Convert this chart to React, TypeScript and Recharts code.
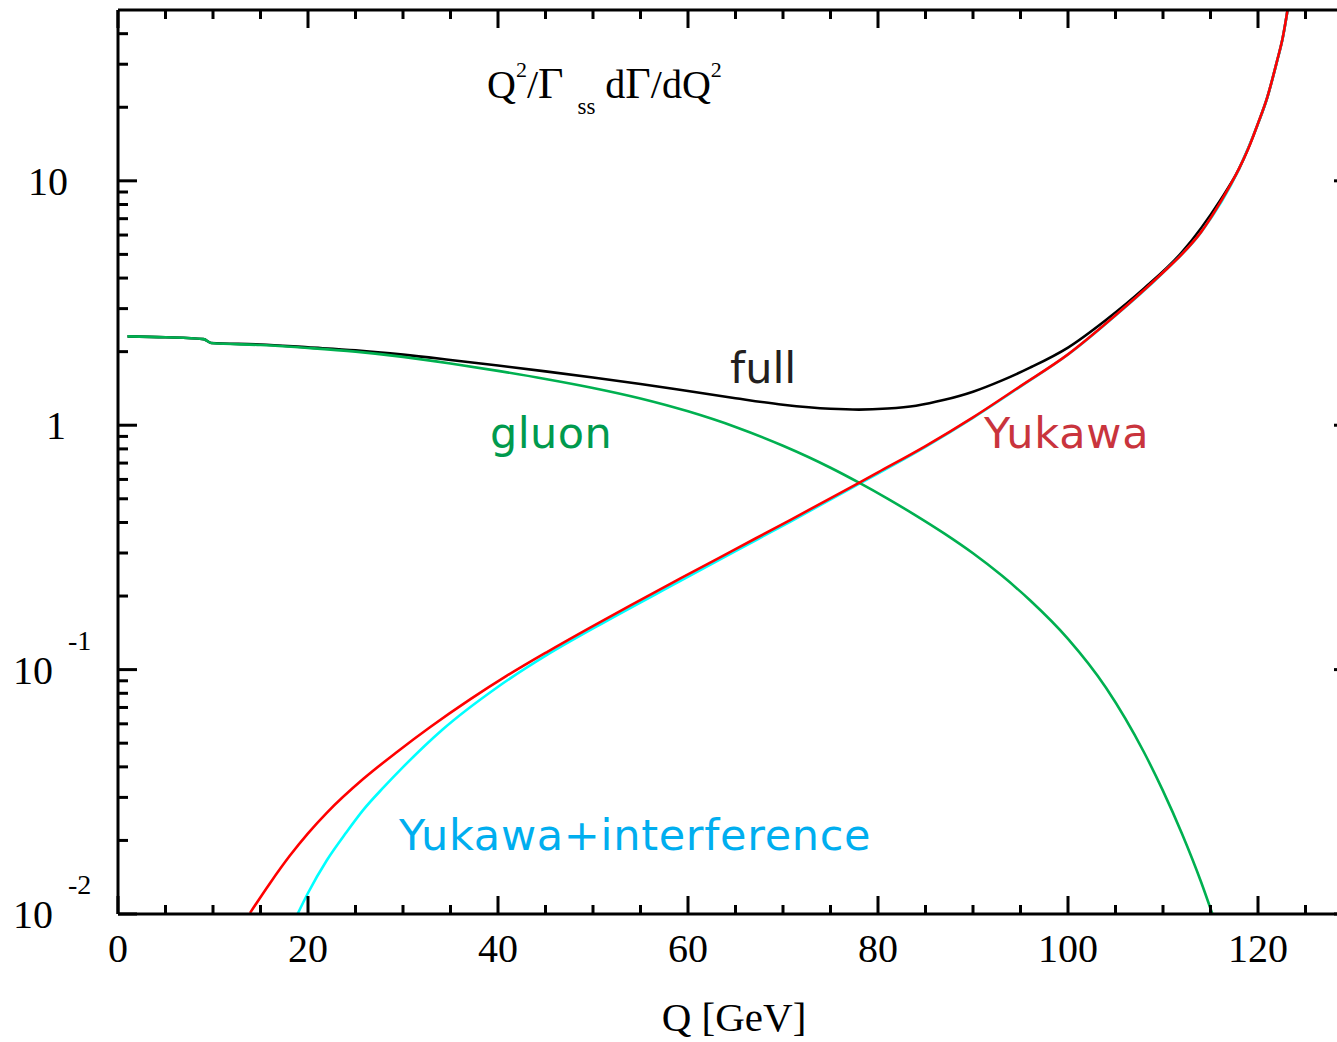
import React from "react";
import { LineChart, Line, XAxis, YAxis, Customized } from "recharts";

// Q [GeV] / value pairs
const fullQ = [1, 5, 9, 9.8, 15, 20, 25, 30, 35, 40, 45, 50, 55, 60, 65, 70, 75, 78, 81, 84, 87, 90, 93, 96, 100, 104, 108, 112, 116, 118, 120, 121, 122, 122.6, 123.1];
const fullV = [2.31, 2.29, 2.25, 2.17, 2.14, 2.082, 2.024, 1.944, 1.849, 1.754, 1.661, 1.568, 1.475, 1.38, 1.29, 1.213, 1.167, 1.158, 1.17, 1.202, 1.27, 1.371, 1.522, 1.72, 2.079, 2.696, 3.627, 5.108, 8.3, 11.19, 17.14, 22.08, 30.83, 38.37, 49.66];

const gluonQ = [1, 5, 9, 9.8, 15, 20, 25, 30, 35, 40, 45, 50, 55, 60, 65, 70, 75, 78, 81, 84, 87, 90, 93, 96, 100, 104, 108, 110, 112, 114, 115.2];
const gluonV = [2.31, 2.29, 2.25, 2.17, 2.128, 2.07, 2.0, 1.904, 1.789, 1.669, 1.547, 1.421, 1.287, 1.14, 0.984, 0.824, 0.67, 0.582, 0.5008, 0.4267, 0.3599, 0.2991, 0.243, 0.1922, 0.1336, 0.0843, 0.0459, 0.0319, 0.0213, 0.01355, 0.01];

const yukawaQ = [13.9, 16, 18.1, 20, 22, 25.8, 29.4, 32.8, 37.1, 40.9, 45.2, 49.7, 53.9, 59.2, 65, 70.7, 77.9, 80, 85, 90, 95, 100, 105, 110, 112, 114, 116, 118, 119.2, 120, 121, 122, 122.6, 123.1];
const yukawaV = [0.0101, 0.01337, 0.01734, 0.02138, 0.026, 0.03565, 0.04613, 0.05794, 0.07568, 0.09419, 0.1183, 0.1486, 0.1828, 0.236, 0.3112, 0.4083, 0.5781, 0.6412, 0.8213, 1.0765, 1.4454, 1.95, 2.818, 4.217, 5.012, 6.166, 8.128, 11.22, 14.22, 17.18, 22.13, 30.9, 38.46, 49.77];

const interfQ = [18.9, 20, 22, 24, 25.8, 28, 30, 34.2, 39.9, 45.2, 50.4, 59.2, 65, 70.7, 77.9, 85, 90, 95, 100, 105, 110, 114, 118, 120, 121, 122, 122.6, 123.1];
const interfV = [0.01, 0.01219, 0.01663, 0.02148, 0.02661, 0.03311, 0.0399, 0.05702, 0.08453, 0.1151, 0.1503, 0.2307, 0.3055, 0.4018, 0.5728, 0.8155, 1.0715, 1.4388, 1.9454, 2.8119, 4.2073, 6.1518, 11.194, 17.14, 22.08, 30.83, 38.37, 49.66];

const xTicks = [0, 5, 10, 15, 20, 25, 30, 35, 40, 45, 50, 55, 60, 65, 70, 75, 80, 85, 90, 95, 100, 105, 110, 115, 120, 125, 130];
const xLabels = [0, 20, 40, 60, 80, 100, 120];
const yTicks = [
  0.01, 0.02, 0.03, 0.04, 0.05, 0.06, 0.07, 0.08, 0.09,
  0.1, 0.2, 0.3, 0.4, 0.5, 0.6, 0.7, 0.8, 0.9,
  1, 2, 3, 4, 5, 6, 7, 8, 9,
  10, 20, 30, 40,
];
const yMajor = [0.01, 0.1, 1, 10];

const zip = (q: number[], v: number[]) => q.map((x, i) => ({ q: x, v: v[i] }));
const fullData = zip(fullQ, fullV);
const gluonData = zip(gluonQ, gluonV);
const yukawaData = zip(yukawaQ, yukawaV);
const interfData = zip(interfQ, interfV);

const SERIF = "'Liberation Serif', 'Times New Roman', serif";
const SANS = "'DejaVu Sans', sans-serif";

const BottomTick = ({ x, y, payload }: any) => {
  const v = payload.value;
  const major = v % 20 === 0;
  return (
    <g>
      <line x1={x} y1={y} x2={x} y2={y - (major ? 18 : 9)} stroke="#000" strokeWidth={3} />
      {xLabels.includes(v) && (
        <text x={x} y={y + 48} textAnchor="middle" fontFamily={SERIF} fontSize={40} fill="#000">
          {v}
        </text>
      )}
    </g>
  );
};

const TopTick = ({ x, y, payload }: any) => {
  const major = payload.value % 20 === 0;
  return <line x1={x} y1={y} x2={x} y2={y + (major ? 18 : 9)} stroke="#000" strokeWidth={3} />;
};

const LeftTick = ({ x, y, payload }: any) => {
  const v = payload.value;
  const major = yMajor.includes(v);
  let label = null;
  if (v === 10)
    label = (
      <text x={68} y={y + 14} textAnchor="end" fontFamily={SERIF} fontSize={40}>10</text>
    );
  else if (v === 1)
    label = (
      <text x={66} y={y + 14} textAnchor="end" fontFamily={SERIF} fontSize={40}>1</text>
    );
  else if (v === 0.1 || v === 0.01)
    label = (
      <text x={13} y={y + 14} fontFamily={SERIF} fontSize={40}>
        10
        <tspan dx={15} dy={-34} fontSize={28}>{v === 0.1 ? "-1" : "-2"}</tspan>
      </text>
    );
  return (
    <g>
      <line x1={x} y1={y} x2={x + (major ? 19 : 10)} y2={y} stroke="#000" strokeWidth={3} />
      {label}
    </g>
  );
};

const RightTick = ({ x, y, payload }: any) => {
  const major = yMajor.includes(payload.value);
  return <line x1={x} y1={y} x2={x - (major ? 19 : 10)} y2={y} stroke="#000" strokeWidth={3} />;
};

const Annotations = () => (
  <g>
    <text x={487} y={98} fontFamily={SERIF} fontSize={40} fill="#000">
      <tspan>Q</tspan>
      <tspan fontSize={22} dy={-21}>2</tspan>
      <tspan dy={21}>/</tspan>
      <tspan fontSize={44}>Γ</tspan>
      <tspan fontSize={23} dx={14} dy={16}>ss</tspan>
      <tspan dy={-16}> d</tspan>
      <tspan fontSize={44}>Γ</tspan>
      <tspan>/dQ</tspan>
      <tspan fontSize={22} dy={-21}>2</tspan>
    </text>
    <text x={730} y={383} fontFamily={SANS} fontSize={43} fill="#231f20">full</text>
    <text x={490} y={448} fontFamily={SANS} fontSize={43} fill="#009a4e" letterSpacing={0.4}>gluon</text>
    <text x={984} y={448} fontFamily={SANS} fontSize={43} fill="#c9343d" letterSpacing={0.8}>Yukawa</text>
    <text x={399} y={850} fontFamily={SANS} fontSize={43} fill="#00aeef" letterSpacing={0.7}>Yukawa+interference</text>
    <text x={734} y={1031} textAnchor="middle" fontFamily={SERIF} fontSize={41} fill="#000">Q [GeV]</text>
  </g>
);

export default function App() {
  return (
    <div
      style={{
        position: "absolute",
        left: 0,
        top: 0,
        width: 1337,
        height: 1042,
        overflow: "hidden",
        background: "#fff",
      }}
    >
      <LineChart width={1370} height={1042} margin={{ top: 0, right: 7, bottom: 98, left: 58 }}>
        <XAxis
          xAxisId="b"
          type="number"
          dataKey="q"
          domain={[0, 130]}
          allowDataOverflow
          ticks={xTicks}
          interval={0}
          tickSize={0}
          tickMargin={0}
          tickLine={false}
          tick={(p: any) => <BottomTick {...p} />}
          axisLine={{ stroke: "#000", strokeWidth: 3 }}
          height={30}
        />
        <XAxis
          xAxisId="t"
          orientation="top"
          type="number"
          dataKey="q"
          domain={[0, 130]}
          allowDataOverflow
          ticks={xTicks}
          interval={0}
          tickSize={0}
          tickMargin={0}
          tickLine={false}
          tick={(p: any) => <TopTick {...p} />}
          axisLine={{ stroke: "#000", strokeWidth: 3 }}
          height={10}
        />
        <YAxis
          yAxisId="l"
          type="number"
          scale="log"
          dataKey="v"
          domain={[0.01, 50]}
          allowDataOverflow
          ticks={yTicks}
          interval={0}
          tickSize={0}
          tickMargin={0}
          tickLine={false}
          tick={(p: any) => <LeftTick {...p} />}
          axisLine={{ stroke: "#000", strokeWidth: 3 }}
          width={60}
        />
        <YAxis
          yAxisId="r"
          orientation="right"
          type="number"
          scale="log"
          dataKey="v"
          domain={[0.01, 50]}
          allowDataOverflow
          ticks={yTicks}
          interval={0}
          tickSize={0}
          tickMargin={0}
          tickLine={false}
          tick={(p: any) => <RightTick {...p} />}
          axisLine={{ stroke: "#000", strokeWidth: 3 }}
          width={10}
        />
        <Line xAxisId="b" yAxisId="l" data={fullData} dataKey="v" type="monotone" stroke="#000" strokeWidth={2.6} dot={false} isAnimationActive={false} />
        <Line xAxisId="b" yAxisId="l" data={interfData} dataKey="v" type="monotone" stroke="#00ffff" strokeWidth={2.6} dot={false} isAnimationActive={false} />
        <Line xAxisId="b" yAxisId="l" data={gluonData} dataKey="v" type="monotone" stroke="#00b050" strokeWidth={2.6} dot={false} isAnimationActive={false} />
        <Line xAxisId="b" yAxisId="l" data={yukawaData} dataKey="v" type="monotone" stroke="#ff0000" strokeWidth={2.6} dot={false} isAnimationActive={false} />
        <Customized component={Annotations} />
      </LineChart>
    </div>
  );
}
